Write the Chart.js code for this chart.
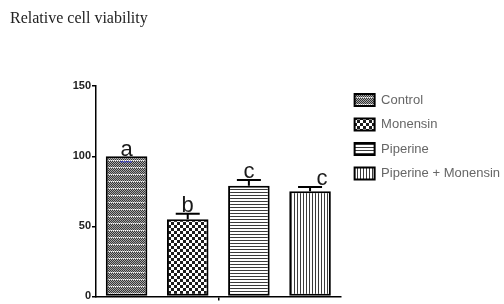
<!DOCTYPE html>
<html>
<head>
<meta charset="utf-8">
<script src="https://cdn.jsdelivr.net/npm/chart.js@4.4.1/dist/chart.umd.min.js"></script>
<style>
  html, body { margin: 0; padding: 0; background: #fff; }
  #wrap { width: 504px; height: 304px; }
</style>
</head>
<body>
<div id="wrap"><canvas id="viabilityChart" width="504" height="304"></canvas></div>
<script>
const groups = ["Control", "Monensin", "Piperine", "Piperine + Monensin"];
const viability = [100, 55, 79, 75];
const viabilityErr = [4, 4, 4, 3];
const groupLetters = ["a", "b", "c", "c"];
const yTicks = [0, 50, 100, 150];

// small tiles used as bar fills (GraphPad style hatching)
function makePattern(w, h, paint) {
  const tile = document.createElement("canvas");
  tile.width = w;
  tile.height = h;
  const g = tile.getContext("2d");
  g.fillStyle = "#fff";
  g.fillRect(0, 0, w, h);
  paint(g);
  return g.createPattern(tile, "repeat");
}

const barFills = [
  makePattern(2, 7, (g) => {
    for (let y = 0; y < 6; y++) {
      g.fillStyle = "#333";
      g.fillRect(y % 2, y, 1, 1);
      g.fillStyle = "#aaa";
      g.fillRect(1 - (y % 2), y, 1, 1);
    }
    g.fillStyle = "#9a9a9a";
    g.fillRect(0, 6, 1, 1);
  }),
  makePattern(6, 6, (g) => {
    g.fillStyle = "#1c1c1c";
    g.fillRect(3, 0, 3, 3);
    g.fillRect(0, 3, 3, 3);
  }),
  makePattern(1, 3, (g) => {
    g.fillStyle = "#3a3a3a";
    g.fillRect(0, 0, 1, 1);
  }),
  makePattern(3, 1, (g) => {
    g.fillStyle = "#3a3a3a";
    g.fillRect(0, 0, 1, 1);
  })
];

const errorAndLetters = {
  id: "errorAndLetters",
  afterDatasetsDraw(chart, args, opts) {
    const { ctx, scales: { x, y } } = chart;
    ctx.save();
    viability.forEach((value, i) => {
      const cx = x.getPixelForValue(i);
      const top = y.getPixelForValue(value);
      let labelBase = top;
      if (i === 0) {
        // reference bar: only a faint blue cap visible inside the bar
        const inner = y.getPixelForValue(value - viabilityErr[i]);
        ctx.strokeStyle = "#3b42d0";
        ctx.lineWidth = 1.5;
        ctx.setLineDash([2, 1]);
        ctx.beginPath();
        ctx.moveTo(cx - 6, inner);
        ctx.lineTo(cx + 6, inner);
        ctx.stroke();
        ctx.setLineDash([]);
      } else {
        const errTop = y.getPixelForValue(value + viabilityErr[i]);
        ctx.strokeStyle = "#000";
        ctx.lineWidth = 2;
        ctx.beginPath();
        ctx.moveTo(cx, top);
        ctx.lineTo(cx, errTop);
        ctx.moveTo(cx - opts.capWidth / 2, errTop);
        ctx.lineTo(cx + opts.capWidth / 2, errTop);
        ctx.stroke();
        labelBase = errTop - 2;
      }
      ctx.fillStyle = "#1a1a1a";
      ctx.font = "22px 'Liberation Sans', Arial, sans-serif";
      ctx.textAlign = "center";
      ctx.textBaseline = "alphabetic";
      ctx.fillText(groupLetters[i], cx + (opts.letterShift[i] || 0), labelBase);
    });
    ctx.restore();
  }
};

new Chart(document.getElementById("viabilityChart"), {
  type: "bar",
  data: {
    labels: groups,
    datasets: [
      {
        label: "Relative cell viability",
        data: viability,
        backgroundColor: barFills,
        borderColor: "#000",
        borderWidth: 2,
        borderSkipped: false,
        barPercentage: 0.68,
        categoryPercentage: 1
      }
    ]
  },
  options: {
    responsive: false,
    animation: false,
    layout: { padding: { left: 10, right: -6, top: 0, bottom: 0 } },
    plugins: {
      title: {
        display: true,
        text: "Relative cell viability",
        align: "start",
        color: "#222",
        font: { family: "'Liberation Serif', 'Times New Roman', serif", size: 16, weight: "normal" },
        padding: { top: 9, bottom: 58 }
      },
      legend: {
        position: "right",
        align: "start",
        maxWidth: 220,
        title: {
          display: true,
          text: " ",
          font: { size: 10 },
          padding: { top: 0, bottom: 70 }
        },
        labels: {
          boxWidth: 20,
          boxHeight: 12,
          padding: 11.5,
          color: "#1e1e1e",
          font: { family: "'Liberation Sans', Arial, sans-serif", size: 13 },
          generateLabels: () => groups.map((name, i) => ({
            text: name,
            fillStyle: barFills[i],
            strokeStyle: "#000",
            lineWidth: 2,
            hidden: false,
            index: i
          }))
        }
      },
      tooltip: { enabled: false },
      errorAndLetters: { capWidth: 24, letterShift: [0, 0, 0, 12] }
    },
    scales: {
      x: {
        ticks: { display: false },
        grid: {
          offset: true,
          drawOnChartArea: false,
          tickLength: 4,
          lineWidth: 1.5,
          color: (c) => (c.index === 2 ? "#000" : "rgba(0,0,0,0)")
        },
        border: { display: true, color: "#000", width: 1.5 }
      },
      y: {
        min: 0,
        max: 150,
        afterBuildTicks: (scale) => {
          scale.ticks = yTicks.map((v) => ({ value: v }));
        },
        afterFit: (scale) => {
          scale.width = 86;
        },
        ticks: {
          padding: 1,
          color: "#222",
          font: { family: "'Liberation Sans', Arial, sans-serif", size: 11, weight: "bold" }
        },
        grid: { drawOnChartArea: false, tickLength: 4, lineWidth: 1.5, color: "#000" },
        border: { color: "#000", width: 1.5 }
      },
      // empty spacer axis: keeps a small gap between plot and legend
      gap: {
        position: "right",
        display: true,
        ticks: { display: false },
        grid: { display: false },
        border: { display: false },
        afterFit: (scale) => {
          scale.width = 2.5;
        }
      }
    }
  },
  plugins: [errorAndLetters]
});
</script>
</body>
</html>
